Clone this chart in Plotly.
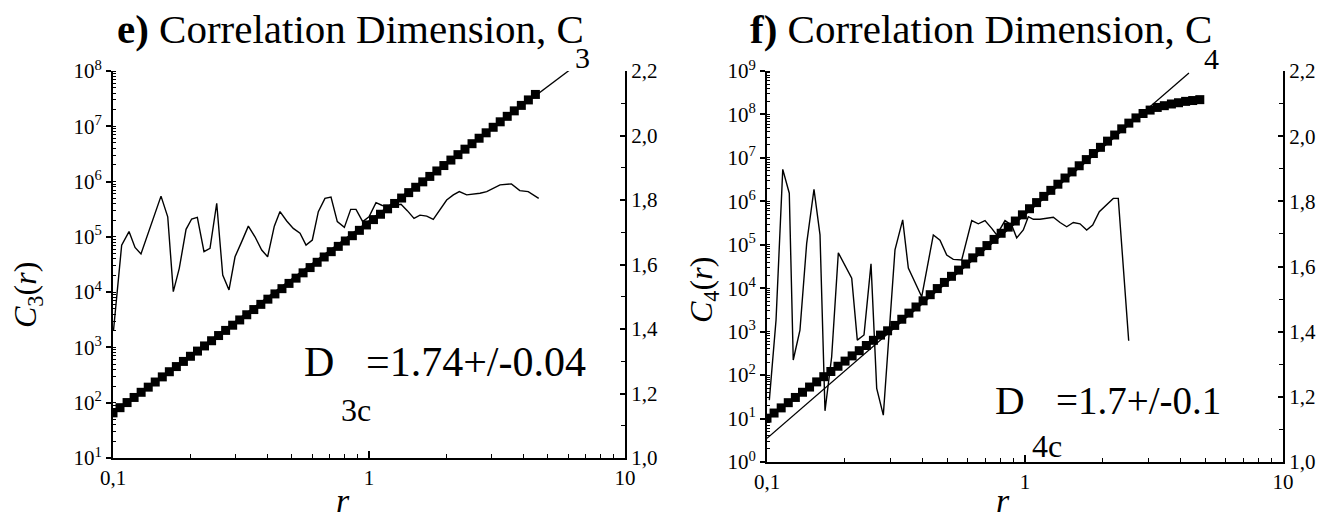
import plotly.graph_objects as go

# ---------------- data ----------------
r_grid = [0.1, 0.1065, 0.1135, 0.1209, 0.1288, 0.1373, 0.1462, 0.1558, 0.1660, 0.1768,
          0.1884, 0.2007, 0.2138, 0.2278, 0.2427, 0.2585, 0.2754, 0.2934, 0.3126, 0.3330,
          0.3548, 0.3780, 0.4027, 0.4291, 0.4571, 0.4870, 0.5188, 0.5527, 0.5888, 0.6273,
          0.6683, 0.7120, 0.7586, 0.8082, 0.8610, 0.9173, 0.9772, 1.041, 1.109, 1.182,
          1.259, 1.341, 1.429, 1.522, 1.622, 1.728, 1.841, 1.961, 2.089, 2.226,
          2.371, 2.526, 2.692, 2.868, 3.055, 3.255, 3.467, 3.694, 3.936, 4.193,
          4.467, 4.759]

C3 = [65.6, 81.3, 100.6, 124.5, 154.3, 191.1, 236.8, 293.2, 363.4, 450.5,
      558.5, 691.8, 858.7, 1064, 1321, 1641, 2032, 2523, 3141, 3899,
      4842, 6012, 7464, 9290, 1.156e4, 1.439e4, 1.791e4, 2.234e4, 2.780e4, 3.467e4,
      4.325e4, 5.395e4, 6.730e4, 8.414e4, 1.050e5, 1.312e5, 1.641e5, 2.051e5, 2.564e5, 3.214e5,
      4.018e5, 5.035e5, 6.310e5, 7.889e5, 9.886e5, 1.240e6, 1.556e6, 1.950e6, 2.449e6, 3.069e6,
      3.855e6, 4.842e6, 6.081e6, 7.621e6, 9.594e6, 1.205e7, 1.514e7, 1.901e7, 2.388e7, 2.999e7,
      3.767e7]

C4 = [10.2, 13.4, 17.6, 23.2, 30.6, 40.3, 53.1, 69.8, 92.0, 121,
      160, 210, 277, 365, 481, 632, 834, 1047, 1393, 1932,
      2673, 3698, 5129, 7096, 9817, 1.36e4, 1.88e4, 2.61e4, 3.61e4, 5.00e4,
      6.93e4, 9.59e4, 1.33e5, 1.84e5, 2.55e5, 3.52e5, 4.89e5, 6.76e5, 9.35e5, 1.30e6,
      1.79e6, 2.48e6, 3.44e6, 4.76e6, 6.59e6, 9.14e6, 1.26e7, 1.75e7, 2.43e7, 3.36e7,
      4.66e7, 6.31e7, 8.32e7, 1.05e8, 1.26e8, 1.45e8, 1.59e8, 1.74e8, 1.86e8, 2.00e8,
      2.09e8, 2.19e8]

fit3_r = [0.1, 6.85]
fit3_C = [64.6, 1.58e8]
fit4_r = [0.1, 4.32]
fit4_C = [3.5, 9.0e8]

D3_r = [0.1005, 0.1081, 0.1155, 0.1219, 0.1286, 0.154, 0.1636, 0.172, 0.1815, 0.1929,
        0.2029, 0.2135, 0.2267, 0.2393, 0.2542, 0.2683, 0.2839, 0.2997, 0.3183, 0.3378,
        0.3586, 0.3809, 0.4018, 0.4267, 0.4491, 0.4771, 0.5061, 0.5377, 0.5675, 0.6006,
        0.6339, 0.6730, 0.7105, 0.7519, 0.8013, 0.8483, 0.8897, 0.9449, 1.000, 1.065,
        1.127, 1.190, 1.264, 1.334, 1.411, 1.499, 1.582, 1.681, 1.783, 1.894,
        2.011, 2.135, 2.253, 2.408, 2.555, 2.714, 2.883, 3.059, 3.250, 3.600,
        3.882, 4.188, 4.602]
D3 = [1.397, 1.660, 1.702, 1.653, 1.633, 1.812, 1.748, 1.516, 1.588, 1.709,
      1.741, 1.746, 1.640, 1.650, 1.790, 1.567, 1.521, 1.624, 1.671, 1.719,
      1.686, 1.645, 1.624, 1.719, 1.764, 1.735, 1.712, 1.697, 1.660, 1.676,
      1.764, 1.805, 1.809, 1.733, 1.715, 1.771, 1.771, 1.733, 1.748, 1.792,
      1.783, 1.781, 1.784, 1.787, 1.767, 1.743, 1.753, 1.750, 1.740, 1.769,
      1.800, 1.816, 1.826, 1.816, 1.818, 1.821, 1.826, 1.836, 1.847, 1.850,
      1.829, 1.826, 1.805]

D4_r = [0.1021, 0.1084, 0.1151, 0.1220, 0.1264, 0.1342, 0.1425, 0.1521, 0.1605, 0.1678,
        0.1781, 0.1890, 0.2130, 0.2239, 0.2377, 0.2530, 0.2662, 0.2824, 0.3134, 0.3357,
        0.3530, 0.3977, 0.4412, 0.4683, 0.4972, 0.5273, 0.5684, 0.6216, 0.6592, 0.6998,
        0.7430, 0.7769, 0.8366, 0.8881, 0.9286, 0.9849, 1.030, 1.077, 1.143, 1.288,
        1.367, 1.451, 1.539, 1.634, 1.734, 1.830, 1.941, 2.074, 2.199, 2.299,
        2.523]
D4 = [1.190, 1.436, 1.898, 1.825, 1.313, 1.405, 1.671, 1.837, 1.697, 1.157,
      1.323, 1.642, 1.564, 1.374, 1.390, 1.608, 1.226, 1.144, 1.651, 1.743,
      1.595, 1.507, 1.697, 1.681, 1.635, 1.622, 1.620, 1.741, 1.731, 1.741,
      1.717, 1.697, 1.741, 1.727, 1.688, 1.712, 1.753, 1.745, 1.745, 1.751,
      1.735, 1.722, 1.735, 1.731, 1.712, 1.727, 1.768, 1.789, 1.809, 1.809,
      1.372]

x_tickvals = [0.1, 1, 10]
x_ticktext = ["0,1", "1", "10"]
y3_exps = [1, 2, 3, 4, 5, 6, 7, 8]
y4_exps = [0, 1, 2, 3, 4, 5, 6, 7, 8, 9]
d_tickvals = [1.0, 1.2, 1.4, 1.6, 1.8, 2.0, 2.2]
d_ticktext = ["1,0", "1,2", "1,4", "1,6", "1,8", "2,0", "2,2"]

# ---------------- figure ----------------
W, H = 1333, 523
FONT = "Liberation Serif"
BLACK = "#000000"


def px(x):
    return x / W


def py(y):
    return 1 - y / H


fig = go.Figure()

fig.add_trace(go.Scatter(x=D3_r, y=D3, mode="lines", line=dict(color=BLACK, width=1.4),
                         xaxis="x", yaxis="y2", showlegend=False))
fig.add_trace(go.Scatter(x=fit3_r, y=fit3_C, mode="lines", line=dict(color=BLACK, width=1.3),
                         xaxis="x", yaxis="y", showlegend=False))
fig.add_trace(go.Scatter(x=r_grid[:len(C3)], y=C3, mode="markers",
                         marker=dict(symbol="square", size=9, color=BLACK, line=dict(width=0)),
                         xaxis="x", yaxis="y", showlegend=False))
fig.add_trace(go.Scatter(x=D4_r, y=D4, mode="lines", line=dict(color=BLACK, width=1.4),
                         xaxis="x2", yaxis="y4", showlegend=False))
fig.add_trace(go.Scatter(x=fit4_r, y=fit4_C, mode="lines", line=dict(color=BLACK, width=1.3),
                         xaxis="x2", yaxis="y3", showlegend=False))
fig.add_trace(go.Scatter(x=r_grid[:len(C4)], y=C4, mode="markers",
                         marker=dict(symbol="square", size=9, color=BLACK, line=dict(width=0)),
                         xaxis="x2", yaxis="y3", showlegend=False))

tickfont = dict(family=FONT, size=21, color=BLACK)

xcommon = dict(type="log", range=[-1, 1], tickmode="array", tickvals=x_tickvals,
               ticktext=x_ticktext, ticks="inside", ticklen=7, tickwidth=1.5,
               tickcolor=BLACK, showline=True, linecolor=BLACK, linewidth=2,
               showgrid=False, zeroline=False, tickfont=tickfont,
               minor=dict(dtick="D1", ticks="inside", ticklen=4, tickwidth=1.2,
                          tickcolor=BLACK, showgrid=False))

ylogcommon = dict(type="log", tickmode="array", ticks="outside", ticklen=5, tickwidth=1.5,
                  tickcolor=BLACK, showline=True, linecolor=BLACK, linewidth=2,
                  showgrid=False, zeroline=False, tickfont=tickfont,
                  minor=dict(dtick="D1", ticks="inside", ticklen=3, tickwidth=1,
                             tickcolor=BLACK, showgrid=False))

ydcommon = dict(range=[1.0, 2.2], tickmode="array", tickvals=d_tickvals, ticktext=d_ticktext,
                ticks="inside", ticklen=5, tickwidth=1.5, tickcolor=BLACK, side="right",
                showline=True, linecolor=BLACK, linewidth=2, showgrid=False, zeroline=False,
                tickfont=tickfont,
                minor=dict(dtick=0.1, ticks="inside", ticklen=4, tickwidth=1.2,
                           tickcolor=BLACK, showgrid=False))

fig.update_layout(
    width=W, height=H,
    margin=dict(l=0, r=0, t=0, b=0, autoexpand=False),
    paper_bgcolor="white", plot_bgcolor="white",
    showlegend=False,
    xaxis=dict(domain=[px(113), px(625)], anchor="y", **xcommon),
    yaxis=dict(domain=[py(458), py(71)], anchor="x", range=[1, 8],
               tickvals=[10 ** e for e in y3_exps],
               ticktext=[f"10<sup>{e}</sup>" for e in y3_exps], **ylogcommon),
    yaxis2=dict(overlaying="y", anchor="x", **ydcommon),
    xaxis2=dict(domain=[px(767), px(1283)], anchor="y3", **xcommon),
    yaxis3=dict(domain=[py(462), py(71)], anchor="x2", range=[0, 9],
                tickvals=[10 ** e for e in y4_exps],
                ticktext=[f"10<sup>{e}</sup>" for e in y4_exps], **ylogcommon),
    yaxis4=dict(overlaying="y3", anchor="x2", **ydcommon),
)

ann = []


def add_text(text, x, y, size, xanchor="center", yanchor="middle", angle=0):
    ann.append(dict(text=text, x=px(x), y=py(y), xref="paper", yref="paper",
                    xanchor=xanchor, yanchor=yanchor, showarrow=False, textangle=angle,
                    font=dict(family=FONT, size=size, color=BLACK)))


add_text("<b>e)</b> Correlation Dimension, C", 350, 29, 41)
add_text("3", 582, 57, 30)
add_text("<b>f)</b> Correlation Dimension, C", 981, 29, 41)
add_text("4", 1211, 58, 30)

add_text("<i>C</i><sub>3</sub>(<i>r</i>)", 27, 295, 32, angle=-90)
add_text("<i>C</i><sub>4</sub>(<i>r</i>)", 703, 290, 32, angle=-90)
add_text("<i>r</i>", 343, 500, 34)
add_text("<i>r</i>", 1003, 500, 34)

add_text("D", 302, 362, 42, xanchor="left")
add_text("3c", 339, 410, 32, xanchor="left")
add_text("=1.74+/-0.04", 588, 362, 42, xanchor="right")
add_text("D", 993, 400, 41, xanchor="left")
add_text("4c", 1030, 446, 32, xanchor="left")
add_text("=1.7+/-0.1", 1223, 400, 39, xanchor="right")

fig.update_layout(annotations=ann)

fig.write_html("out.html", config={"displayModeBar": False},
               post_script="document.body.style.margin='0px';")
